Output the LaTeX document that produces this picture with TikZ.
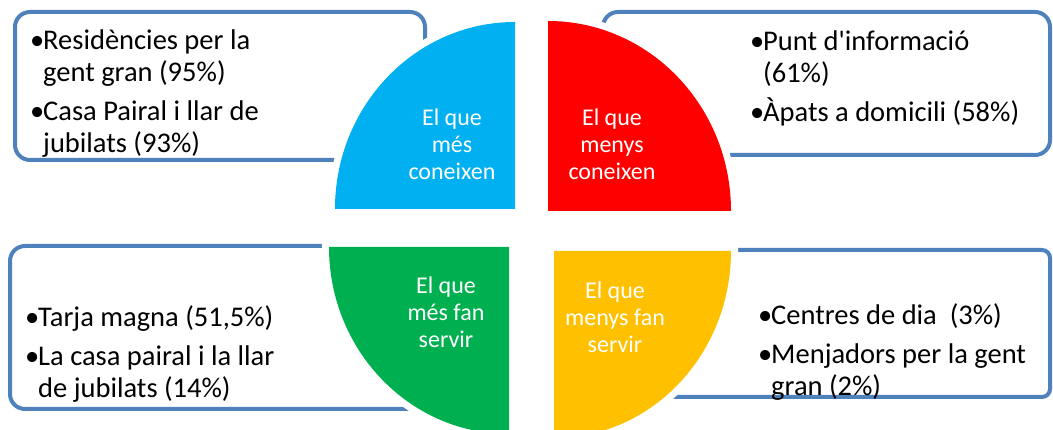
\documentclass[tikz,border=0pt]{standalone}
\usepackage{fontspec}
\setmainfont{Carlito}[Ligatures=TeXOff]
\usetikzlibrary{positioning}
\definecolor{frameblue}{RGB}{79, 129, 189}
\definecolor{quartblue}{RGB}{0, 176, 240}
\definecolor{quartred}{RGB}{255, 0, 0}
\definecolor{quartgreen}{RGB}{0, 176, 80}
\definecolor{quartyellow}{RGB}{255, 192, 0}
\newcommand{\bul}{\makebox[13pt][l]{\textbullet}}
\newcommand{\ind}{\hspace*{13pt}}

\begin{document}
\begin{tikzpicture}[
    x=1pt, y=1pt,
    infobox/.style={draw=frameblue, line width=4pt, rounded corners=15pt},
    quarter/.style={preaction={draw=white, line width=14pt, line join=miter}},
    itemtext/.style={align=left, inner sep=0pt, anchor=north west, font=\fontsize{28.5}{32}\selectfont},
    quartlabel/.style={align=center, inner sep=0pt, text=white, font=\fontsize{24}{27}\selectfont}
]
\useasboundingbox (0,0) rectangle (1053,430);
\clip (0,0) rectangle (1053,430);

% Frames behind the circle
\draw[infobox] (15,270) rectangle (425,418);
\draw[infobox] (603,275) rectangle (1050,418);
\draw[infobox] (10,21) rectangle (470,184);
\draw[infobox, rounded corners=8pt] (600,33) rectangle (1050,180);

% Four quarters
\path[quarter, fill=quartblue] (515,221) -- (335,221) arc[start angle=180, end angle=90, x radius=180, y radius=187] -- cycle;
\path[quarter, fill=quartred] (548,219) -- (548,409) arc[start angle=90, end angle=0, x radius=183, y radius=190] -- cycle;
\path[quarter, fill=quartgreen] (509,183) -- (329,183) arc[start angle=180, end angle=270, x radius=180, y radius=187] -- cycle;
\path[quarter, fill=quartyellow] (554,179) -- (731,179) arc[start angle=0, end angle=-90, x radius=177, y radius=187] -- cycle;

% Quarter labels
\node[quartlabel] (knowmost) at (452,286) {El que\\més\\coneixen};
\node[quartlabel] (knowleast) at (612,286) {El que\\menys\\coneixen};
\node[quartlabel] (usemost) at (446,118) {El que\\més fan\\servir};
\node[quartlabel] (useleast) at (615,113) {El que\\menys fan\\servir};

% Lists
\node[itemtext] (knowmostlist) at (30,400) {\bul Residències per la\\\ind gent gran (95\%)\\[7pt]\bul Casa Pairal i llar de\\\ind jubilats (93\%)};
\node[itemtext] (knowleastlist) at (750,399) {\bul Punt d'informació\\\ind (61\%)\\[7pt]\bul Àpats a domicili (58\%)};
\node[itemtext] (usemostlist) at (25,125) {\bul Tarja magna (51,5\%)\\[7pt]\bul La casa pairal i la llar\\\ind de jubilats (14\%)};
\node[itemtext] (useleastlist) at (758,127) {\bul Centres de dia\ \ (3\%)\\[7pt]\bul Menjadors per la gent\\\ind gran (2\%)};
\end{tikzpicture}
\end{document}
